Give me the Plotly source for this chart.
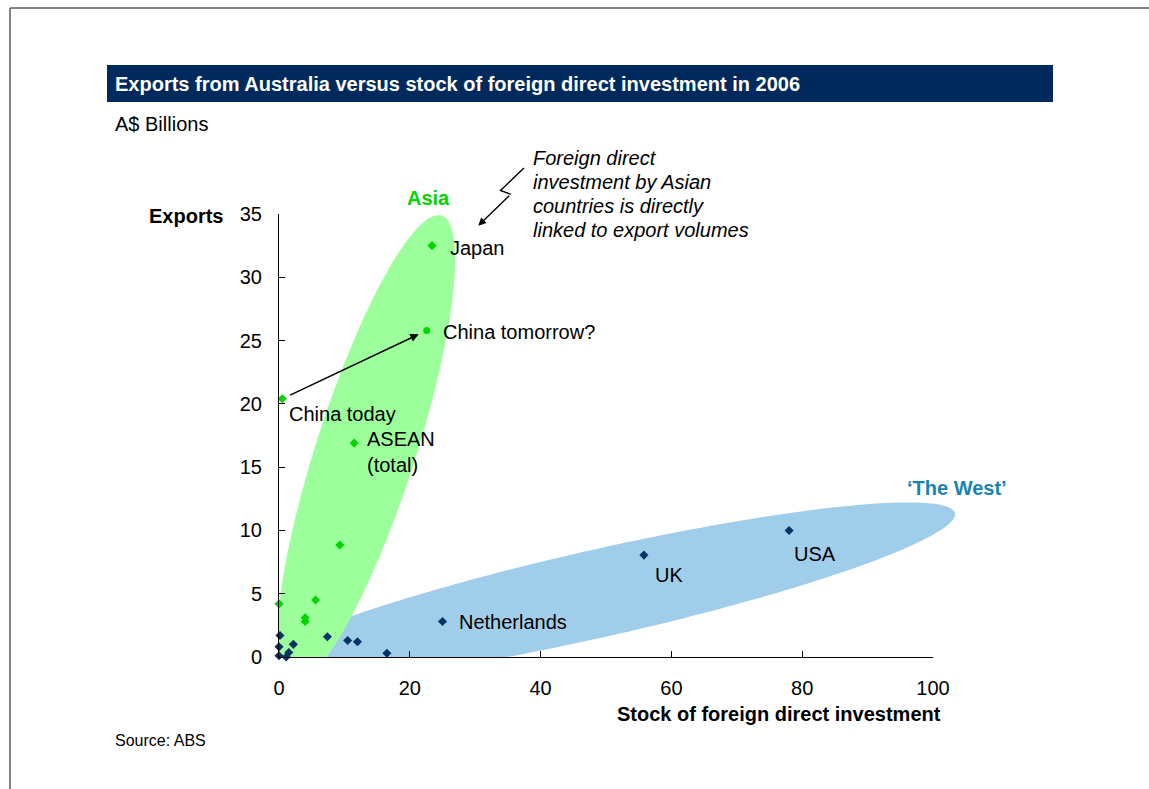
import numpy as np
import plotly.graph_objects as go

# ---- data (A$ billions, 2006) ----
asia_x = [23.4, 0.5, 11.5, 9.3, 5.6, 0.0, 4.0, 4.0]
asia_y = [32.5, 20.4, 16.9, 8.85, 4.5, 4.2, 3.1, 2.8]
china_tomorrow_x = [22.6]
china_tomorrow_y = [25.8]

west_x = [78.0, 55.8, 25.0, 0.15, 0.0, 0.0, 1.1, 1.5, 2.2, 7.4, 10.5, 12.0, 16.5]
west_y = [10.0, 8.05, 2.8, 1.7, 0.8, 0.1, 0.0, 0.35, 1.0, 1.6, 1.3, 1.2, 0.3]

x_ticks = [0, 20, 40, 60, 80, 100]
y_ticks = [0, 5, 10, 15, 20, 25, 30, 35]

# ---- page geometry ----
W, H = 1149, 789
L, R, T, B = 279, 933, 214, 657          # plot area edges in pixels
X_RANGE = (0, 100)
Y_RANGE = (0, 35)

FONT = "Arial, Liberation Sans, sans-serif"
NAVY = "rgb(0,42,94)"
GREEN_MARK = "rgb(0,214,0)"
GREEN_FILL = "rgb(156,255,156)"
BLUE_MARK = "rgb(0,51,102)"
BLUE_FILL = "rgb(160,206,234)"
WEST_TEXT = "rgb(24,132,178)"


def px_x(p):
    return (p - L) / (R - L)


def px_y(p):
    return (B - p) / (B - T)


def ellipse_points(cx, cy, ux, uy, vx, vy, n=240):
    """Ellipse from its centre and two conjugate half-diameters (data units)."""
    t = np.linspace(0, 2 * np.pi, n, endpoint=False)
    xs = cx + ux * np.cos(t) + vx * np.sin(t)
    ys = cy + uy * np.cos(t) + vy * np.sin(t)
    return list(zip(xs, ys))


def clip_half(poly, inside, intersect):
    out = []
    for i in range(len(poly)):
        cur, prev = poly[i], poly[i - 1]
        if inside(cur):
            if not inside(prev):
                out.append(intersect(prev, cur))
            out.append(cur)
        elif inside(prev):
            out.append(intersect(prev, cur))
    return out


def clip_to_axes(poly):
    def ix(a, b):  # crossing x = 0
        t = (0 - a[0]) / (b[0] - a[0])
        return (0.0, a[1] + t * (b[1] - a[1]))

    def iy(a, b):  # crossing y = 0
        t = (0 - a[1]) / (b[1] - a[1])
        return (a[0] + t * (b[0] - a[0]), 0.0)

    poly = clip_half(poly, lambda p: p[0] >= 0, ix)
    poly = clip_half(poly, lambda p: p[1] >= 0, iy)
    return poly


def to_paper_path(poly):
    pts = [((x - X_RANGE[0]) / (X_RANGE[1] - X_RANGE[0]),
            (y - Y_RANGE[0]) / (Y_RANGE[1] - Y_RANGE[0])) for x, y in poly]
    return "M " + " L ".join(f"{x:.5f},{y:.5f}" for x, y in pts) + " Z"


# cluster outlines, drawn in data space and clipped at the axes
west_shape = clip_to_axes(ellipse_points(49.08, 5.05, 54.28, 6.22, 0.0, -3.55))
asia_shape = clip_to_axes(ellipse_points(13.30, 16.35, 11.07, 18.56, 7.95, 0.0))

fig = go.Figure()

fig.add_trace(go.Scatter(
    x=west_x, y=west_y, mode="markers", cliponaxis=False,
    marker=dict(symbol="diamond", size=7, color=BLUE_MARK, line=dict(width=0)),
    hoverinfo="x+y", showlegend=False))
fig.add_trace(go.Scatter(
    x=asia_x, y=asia_y, mode="markers", cliponaxis=False,
    marker=dict(symbol="diamond", size=7, color=GREEN_MARK, line=dict(width=0)),
    hoverinfo="x+y", showlegend=False))
fig.add_trace(go.Scatter(
    x=china_tomorrow_x, y=china_tomorrow_y, mode="markers", cliponaxis=False,
    marker=dict(symbol="circle", size=7, color=GREEN_MARK, line=dict(width=0)),
    hoverinfo="x+y", showlegend=False))

shapes = [
    dict(type="path", xref="paper", yref="paper", path=to_paper_path(west_shape),
         fillcolor=BLUE_FILL, line=dict(width=0), layer="below"),
    dict(type="path", xref="paper", yref="paper", path=to_paper_path(asia_shape),
         fillcolor=GREEN_FILL, line=dict(width=0), layer="below"),
    # title bar
    dict(type="rect", xref="paper", yref="paper",
         x0=px_x(107), x1=px_x(1053), y0=px_y(102), y1=px_y(65),
         fillcolor=NAVY, line=dict(width=0)),
    # page frame
    dict(type="line", xref="paper", yref="paper",
         x0=px_x(10), x1=px_x(1149), y0=px_y(8), y1=px_y(8),
         line=dict(color="#5a5a5a", width=1.5)),
    dict(type="line", xref="paper", yref="paper",
         x0=px_x(10), x1=px_x(10), y0=px_y(8), y1=px_y(789),
         line=dict(color="#5a5a5a", width=1.5)),
    # zig-zag lead of the callout arrow
    dict(type="path", xref="paper", yref="paper",
         path=f"M {px_x(524):.5f},{px_y(168):.5f} L {px_x(500.5):.5f},{px_y(190.5):.5f} "
              f"L {px_x(510.7):.5f},{px_y(194.3):.5f}",
         line=dict(color="black", width=1.4)),
]

ann = []


def text(xp, yp, s, size=20, bold=False, italic=False, color="black",
         xanchor="left", yanchor="middle"):
    if bold:
        s = f"<b>{s}</b>"
    if italic:
        s = f"<i>{s}</i>"
    ann.append(dict(x=px_x(xp), y=px_y(yp), xref="paper", yref="paper", text=s,
                    showarrow=False, xanchor=xanchor, yanchor=yanchor,
                    font=dict(family=FONT, size=size, color=color)))


text(113, 84, "Exports from Australia versus stock of foreign direct investment in 2006",
     size=20, bold=True, color="white")
text(113, 124, "A$ Billions")
text(225, 216, "Exports", bold=True, xanchor="right")
text(943, 714, "Stock of foreign direct investment", bold=True, xanchor="right")
text(113, 740, "Source: ABS", size=16)
text(428, 198, "Asia", bold=True, color=GREEN_MARK, xanchor="center")
text(957, 488, "\u2018The West\u2019", bold=True, color=WEST_TEXT, xanchor="center")
for i, line in enumerate(["Foreign direct", "investment by Asian",
                          "countries is directly", "linked to export volumes"]):
    text(531, 158 + 24 * i, line, italic=True)


def point_label(x, y, s, dx, dy):
    ann.append(dict(x=x, y=y, xref="x", yref="y", text=s, showarrow=False,
                    xanchor="left", yanchor="middle", xshift=dx, yshift=dy,
                    align="left", font=dict(family=FONT, size=20, color="black")))


point_label(asia_x[0], asia_y[0], "Japan", 16, -2)
point_label(china_tomorrow_x[0], china_tomorrow_y[0], "China tomorrow?", 14, -2)
point_label(asia_x[1], asia_y[1], "China today", 5, -15)
point_label(asia_x[2], asia_y[2], "ASEAN<br>(total)", 11, -9)
point_label(west_x[2], west_y[2], "Netherlands", 14, 0)
point_label(west_x[1], west_y[1], "UK", 9, -20)
point_label(west_x[0], west_y[0], "USA", 3, -24)

# China today -> China tomorrow
ann.append(dict(x=china_tomorrow_x[0], y=china_tomorrow_y[0], xref="x", yref="y",
                ax=asia_x[1], ay=asia_y[1], axref="x", ayref="y", text="",
                showarrow=True, arrowhead=2, arrowsize=1.1, arrowwidth=1.5,
                arrowcolor="black", standoff=9, startstandoff=7))
# callout arrow tip
ann.append(dict(x=px_x(478.3), y=px_y(225.7), xref="paper", yref="paper",
                ax=510.7 - 478.3, ay=194.3 - 225.7, text="", showarrow=True,
                arrowhead=2, arrowsize=1.1, arrowwidth=1.4, arrowcolor="black"))

axis_common = dict(showline=True, linecolor="black", linewidth=1, ticks="inside",
                   ticklen=6, tickcolor="black", tickwidth=1, showgrid=False,
                   zeroline=False, tickfont=dict(family=FONT, size=20, color="black"))

fig.update_layout(
    width=W, height=H, autosize=False,
    margin=dict(l=L, r=W - R, t=T, b=H - B, pad=0),
    paper_bgcolor="white", plot_bgcolor="white",
    shapes=shapes, annotations=ann, showlegend=False,
    xaxis=dict(range=list(X_RANGE), tickvals=x_ticks, ticklabelstandoff=13,
               **axis_common),
    yaxis=dict(range=list(Y_RANGE), tickvals=y_ticks, ticklabelstandoff=12,
               **axis_common),
)

fig.write_html("out.html")
